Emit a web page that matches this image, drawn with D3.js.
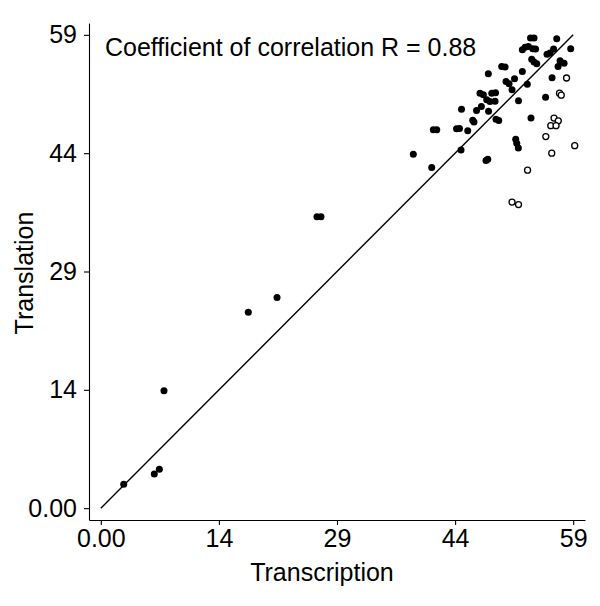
<!DOCTYPE html>
<html><head><meta charset="utf-8">
<script src="https://cdn.jsdelivr.net/npm/d3@7"></script>
<style>body{margin:0;background:#fff}svg{display:block}text{font-family:"Liberation Sans",Arial,sans-serif;fill:#000}</style>
</head><body>
<script>
const transcriptionFilled = [2.86,6.68,7.31,7.89,18.42,22.01,27.0,27.5,39.03,41.33,44.99,41.53,41.96,44.43,44.80,45.05,45.83,46.45,46.61,46.93,47.53,47.36,47.78,48.20,48.61,49.24,48.83,49.30,48.43,48.11,48.33,48.40,49.36,49.70,50.07,50.49,50.61,50.99,51.67,51.36,52.17,51.82,51.95,52.15,52.65,53.27,52.65,52.99,53.67,54.11,53.40,53.95,54.30,53.82,54.11,54.45,53.73,55.55,55.73,56.11,56.55,56.94,56.36,57.11,57.36,57.86,58.69];
const translationFilled = [2.98,4.26,4.85,14.65,24.43,26.25,36.31,36.31,44.13,42.46,44.66,47.16,47.16,47.28,47.34,49.71,47.03,48.34,48.15,49.56,50.06,51.73,51.52,50.90,50.69,50.71,51.73,51.77,49.46,43.33,43.50,54.14,48.47,48.32,55.05,54.98,53.18,52.89,53.52,52.14,50.77,46.0,45.5,44.88,54.43,52.83,57.13,57.44,58.59,58.59,57.54,57.26,57.22,55.95,55.6,55.39,48.62,51.21,56.57,56.72,57.22,58.50,53.64,55.05,55.76,55.47,57.28];
const transcriptionOpen = [58.17,57.29,57.51,56.61,57.14,56.20,56.86,55.58,56.32,59.19,53.30,51.36,52.17];
const translationOpen = [53.62,51.73,51.48,48.62,48.28,47.68,47.68,46.32,44.25,45.19,42.13,38.15,37.84];
const tickValues = [0, 14.75, 29.5, 44.25, 59];
const tickLabels = ["0.00", "14", "29", "44", "59"];
const xTitle = "Transcription";
const yTitle = "Translation";
const annotation = "Coefficient of correlation R = 0.88";

const W = 600, H = 606;
const svg = d3.select("body").append("svg").attr("width", W).attr("height", H);
const x = d3.scaleLinear().domain([-1.475, 60.475]).range([89, 585]);
const y = d3.scaleLinear().domain([-1.475, 60.475]).range([520, 23]);
const fs = 25;

const xAxis = d3.axisBottom(x).tickValues(tickValues).tickFormat((d,i)=>tickLabels[i]).tickSize(5).tickPadding(4).tickSizeOuter(0);
const yAxis = d3.axisLeft(y).tickValues(tickValues).tickFormat((d,i)=>tickLabels[i]).tickSize(5).tickPadding(7).tickSizeOuter(0);

const gx = svg.append("g").attr("transform", "translate(0,520)").call(xAxis);
const gy = svg.append("g").attr("transform", "translate(89,0)").call(yAxis);
[gx, gy].forEach(g => {
  g.selectAll("path.domain").attr("stroke", "#000").attr("stroke-width", 1.1);
  g.selectAll(".tick line").attr("stroke", "#000").attr("stroke-width", 1.1);
  g.selectAll(".tick text").style("font-family", '"Liberation Sans",Arial,sans-serif').style("font-size", fs + "px").attr("fill", "#000");
});

svg.append("line")
  .attr("x1", x(0)).attr("y1", y(0)).attr("x2", x(59)).attr("y2", y(59))
  .attr("stroke", "#000").attr("stroke-width", 1.4);

const filled = transcriptionFilled.map((v, i) => ({x: v, y: translationFilled[i]}));
const open = transcriptionOpen.map((v, i) => ({x: v, y: translationOpen[i]}));

svg.append("g").selectAll("circle").data(filled).join("circle")
  .attr("cx", d => x(d.x)).attr("cy", d => y(d.y)).attr("r", 3.5).attr("fill", "#000");
svg.append("g").selectAll("circle").data(open).join("circle")
  .attr("cx", d => x(d.x)).attr("cy", d => y(d.y)).attr("r", 3)
  .attr("fill", "#fff").attr("stroke", "#000").attr("stroke-width", 1.3);

svg.append("text").attr("x", 105).attr("y", 56).style("font-size", fs + "px").text(annotation);
svg.append("text").attr("x", 322).attr("y", 581).attr("text-anchor", "middle").style("font-size", fs + "px").text(xTitle);
svg.append("text").attr("transform", "translate(33,273) rotate(-90)").attr("text-anchor", "middle").style("font-size", fs + "px").text(yTitle);
</script>
</body></html>
